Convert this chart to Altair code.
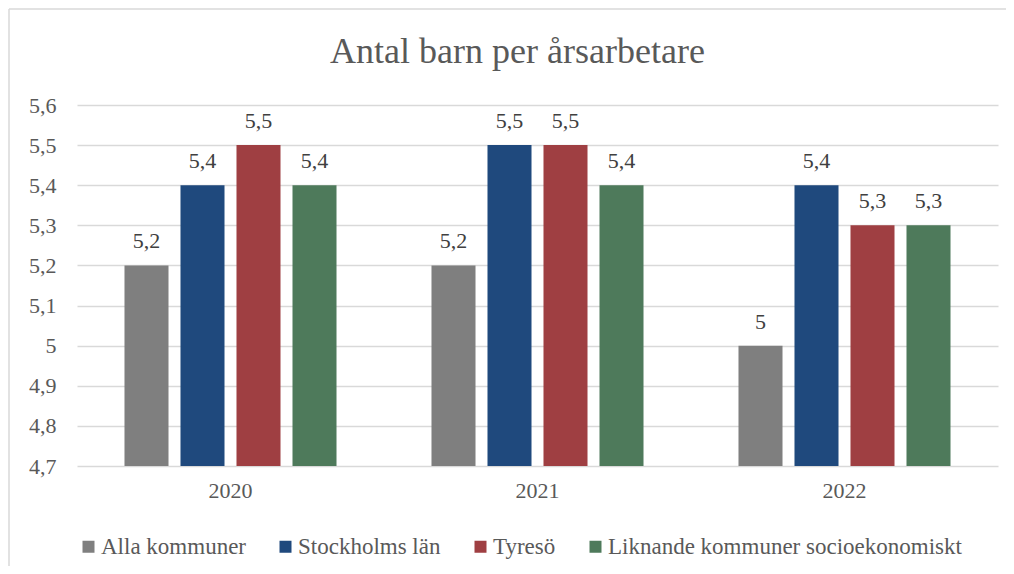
import altair as alt
import pandas as pd

years = ["2020", "2021", "2022"]
series = ["Alla kommuner", "Stockholms län", "Tyresö", "Liknande kommuner socioekonomiskt"]
alla = [5.2, 5.2, 5.0]
stockholm = [5.4, 5.5, 5.4]
tyreso = [5.5, 5.5, 5.3]
liknande = [5.4, 5.4, 5.3]
colors = ["#7F7F7F", "#1F497D", "#9F3F42", "#4E7A5B"]
y_ticks = [4.7, 4.8, 4.9, 5.0, 5.1, 5.2, 5.3, 5.4, 5.5, 5.6]

rows = []
for s, vals in zip(series, [alla, stockholm, tyreso, liknande]):
    for y, v in zip(years, vals):
        rows.append({"year": y, "series": s, "value": v,
                     "label": f"{v:g}".replace(".", ",")})
df = pd.DataFrame(rows)

FONT = "'Liberation Serif', 'Times New Roman', Times, serif"
W, H = 921, 361

x = alt.X("year:N", sort=years, title=None,
          scale=alt.Scale(paddingInner=0, paddingOuter=0),
          axis=alt.Axis(labelAngle=0, ticks=False, domain=False, labelPadding=14,
                        grid=False))
xo = alt.XOffset("series:N", sort=series,
                 scale=alt.Scale(paddingInner=0.214, paddingOuter=0.848))

base = alt.Chart(df)

bars = base.mark_bar().encode(
    x=x,
    xOffset=xo,
    y=alt.Y("value:Q", title=None,
            scale=alt.Scale(domain=[4.7, 5.6], zero=False, nice=False),
            axis=alt.Axis(values=y_ticks, ticks=False, domain=False, labelPadding=21,
                          gridColor="#D9D9D9", gridWidth=1.3,
                          labelExpr="replace(format(datum.value, '.2~f'), '.', ',')")),
    y2=alt.datum(4.7),
    color=alt.Color("series:N", sort=series,
                    scale=alt.Scale(domain=series, range=colors),
                    legend=alt.Legend(title=None, orient="none", legendX=0, legendY=430,
                                      direction="horizontal", columns=4,
                                      symbolType="square", symbolSize=144,
                                      symbolStrokeWidth=0, labelOffset=1,
                                      labelLimit=0, columnPadding=28, padding=0)),
)

labels = base.mark_text(fontSize=22, color="#404040",
                        baseline="alphabetic", dy=-17).encode(
    x=x,
    xOffset=xo,
    y=alt.Y("value:Q"),
    text="label:N",
)

one = pd.DataFrame({"a": [0]})
top_line = alt.Chart(one).mark_rule(color="#D9D9D9", strokeWidth=1.5, clip=False).encode(
    x=alt.value(-68), x2=alt.value(W + 200), y=alt.value(-96),
)
left_line = alt.Chart(one).mark_rule(color="#D9D9D9", strokeWidth=1.5, clip=False).encode(
    x=alt.value(-68), y=alt.value(-96), y2=alt.value(H + 200),
)

chart = alt.layer(top_line, left_line, bars, labels).properties(
    width=W, height=H,
    autosize=alt.AutoSizeParams(type="none"),
    padding={"left": 69, "top": 97, "right": 8, "bottom": 100},
    title=alt.TitleParams("Antal barn per årsarbetare", fontSize=36,
                          fontWeight="normal", color="#595959", anchor="middle",
                          baseline="alphabetic", offset=-55, dx=-20, dy=36),
).configure(
    font=FONT
).configure_axis(
    labelFont=FONT, labelFontSize=22, labelColor="#595959"
).configure_legend(
    labelFont=FONT, labelFontSize=23, labelColor="#595959"
).configure_text(
    font=FONT
).configure_title(
    font=FONT
).configure_view(stroke=None)

chart.save("out.html", embed_options={"renderer": "svg", "actions": False})
